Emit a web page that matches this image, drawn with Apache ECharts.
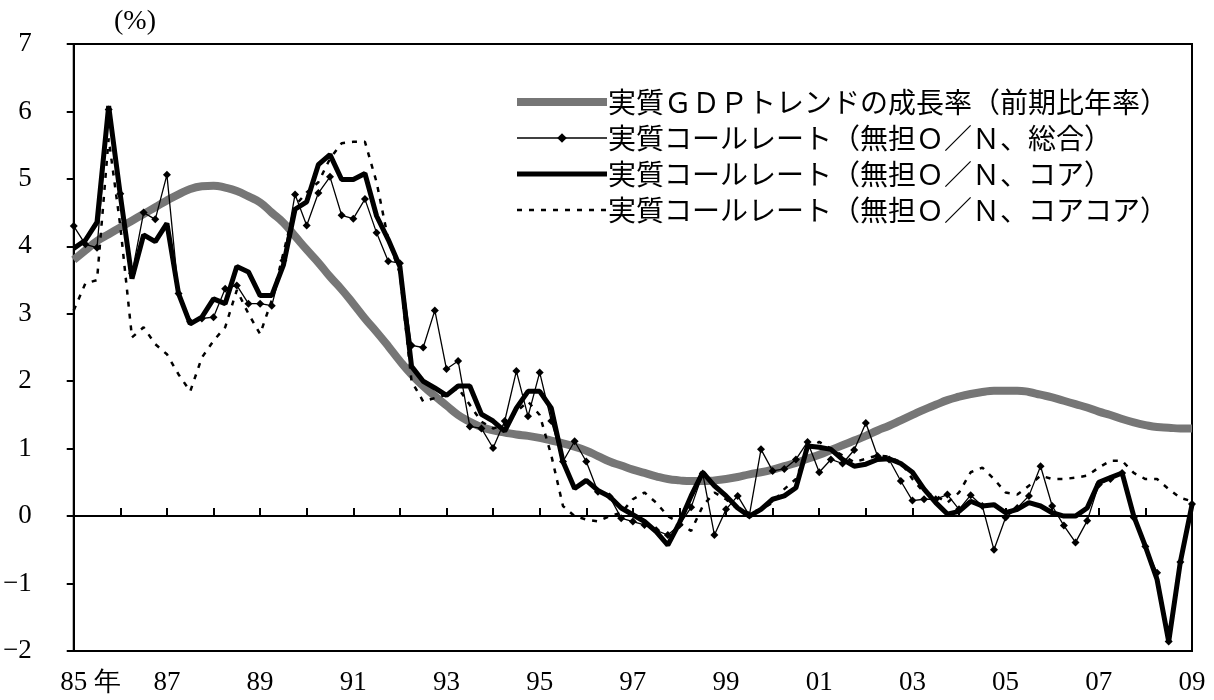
<!DOCTYPE html>
<html>
<head>
<meta charset="utf-8">
<script src="https://cdn.jsdelivr.net/npm/echarts@6/dist/echarts.min.js"></script>
<style>
  html, body { margin: 0; padding: 0; background: #fff; }
  #chart { width: 1214px; height: 700px; }
</style>
</head>
<body>
<div id="chart"></div>
<script>
// quarterly, 1985Q1 .. 2009Q1
const quarters = []
for (let y = 1985; y <= 2009; y++) {
  for (let q = 1; q <= 4; q++) {
    if (y === 2009 && q > 1) break
    quarters.push(y + 'Q' + q)
  }
}

const seriesNames = [
  '実質ＧＤＰトレンドの成長率（前期比年率）',
  '実質コールレート（無担Ｏ／Ｎ、総合）',
  '実質コールレート（無担Ｏ／Ｎ、コア）',
  '実質コールレート（無担Ｏ／Ｎ、コアコア）'
]

// GDP trend growth (smooth gray band)
const gdpTrend = [
  3.80, 3.94, 4.08, 4.18, 4.28, 4.38, 4.48, 4.58, 4.68, 4.77, 4.85, 4.89, 4.90,
  4.87, 4.82, 4.74, 4.65, 4.50, 4.35, 4.15, 3.95, 3.76, 3.55, 3.36, 3.15, 2.93,
  2.73, 2.52, 2.30, 2.10, 1.93, 1.78, 1.64, 1.50, 1.40, 1.32, 1.27, 1.24, 1.21,
  1.19, 1.16, 1.12, 1.08, 1.03, 0.97, 0.89, 0.81, 0.75, 0.69, 0.64, 0.59, 0.55,
  0.53, 0.52, 0.52, 0.53, 0.55, 0.58, 0.62, 0.65, 0.69, 0.74, 0.79, 0.85, 0.91,
  0.98, 1.05, 1.12, 1.19, 1.27, 1.34, 1.42, 1.50, 1.58, 1.65, 1.72, 1.77, 1.81,
  1.84, 1.86, 1.86, 1.86, 1.84, 1.80, 1.76, 1.71, 1.66, 1.61, 1.55, 1.50, 1.44,
  1.39, 1.35, 1.32, 1.31, 1.30, 1.30
]

// real call rate, headline (thin line with diamonds)
const callTotal = [
  4.30, 4.03, 3.98, 6.03, 4.78, 3.60, 4.50, 4.40, 5.06, 3.30, 2.88, 2.93, 2.95,
  3.37, 3.42, 3.15, 3.15, 3.12, 3.79, 4.77, 4.31, 4.79, 5.03, 4.46, 4.41, 4.70,
  4.20, 3.78, 3.75, 2.53, 2.50, 3.05, 2.18, 2.30, 1.33, 1.30, 1.01, 1.41, 2.15,
  1.48, 2.13, 1.41, 0.81, 1.11, 0.81, 0.36, 0.29, -0.03, -0.08, -0.13, -0.21, -0.28,
  -0.13, 0.13, 0.63, -0.28, 0.10, 0.30, 0.01, 0.99, 0.67, 0.70, 0.84, 1.10, 0.65,
  0.84, 0.78, 0.98, 1.38, 0.89, 0.84, 0.52, 0.23, 0.25, 0.25, 0.32, 0.10, 0.31,
  0.15, -0.50, -0.02, 0.12, 0.30, 0.74, 0.15, -0.14, -0.39, -0.07, 0.47, 0.55, 0.64,
  -0.02, -0.45, -0.84, -1.86, -0.68, 0.18
]

// real call rate, core (thick black)
const callCore = [
  3.97, 4.09, 4.36, 6.08, 4.76, 3.52, 4.17, 4.07, 4.34, 3.30, 2.85, 2.95, 3.22,
  3.15, 3.70, 3.62, 3.27, 3.27, 3.72, 4.55, 4.66, 5.21, 5.36, 4.99, 4.99, 5.08,
  4.45, 4.10, 3.70, 2.22, 2.00, 1.90, 1.79, 1.93, 1.93, 1.51, 1.41, 1.26, 1.60,
  1.85, 1.85, 1.60, 0.81, 0.41, 0.53, 0.38, 0.29, 0.12, 0.02, -0.08, -0.23, -0.43,
  -0.10, 0.30, 0.65, 0.45, 0.30, 0.12, 0.00, 0.10, 0.25, 0.30, 0.42, 1.04, 1.02,
  0.99, 0.84, 0.74, 0.77, 0.84, 0.85, 0.78, 0.65, 0.40, 0.20, 0.03, 0.07, 0.22,
  0.15, 0.17, 0.05, 0.10, 0.20, 0.15, 0.05, 0.00, 0.00, 0.12, 0.50, 0.57, 0.64,
  0.00, -0.45, -0.94, -1.86, -0.68, 0.17
]

// real call rate, core-core (dotted)
const callCoreCore = [
  3.05, 3.45, 3.50, 5.60, 4.30, 2.65, 2.80, 2.55, 2.40, 2.10, 1.85, 2.35, 2.60,
  2.80, 3.35, 3.00, 2.70, 3.20, 3.90, 4.60, 4.80, 4.95, 5.30, 5.53, 5.55, 5.55,
  4.95, 4.10, 3.60, 2.00, 1.70, 1.75, 1.80, 1.90, 1.65, 1.40, 1.30, 1.35, 1.55,
  1.70, 1.50, 0.90, 0.15, 0.00, -0.05, -0.08, 0.00, 0.05, 0.25, 0.35, 0.20, 0.00,
  -0.10, -0.22, 0.15, 0.35, 0.25, 0.10, 0.05, 0.10, 0.20, 0.40, 0.55, 1.00, 1.10,
  1.00, 0.90, 0.80, 0.85, 0.90, 0.88, 0.80, 0.55, 0.35, 0.30, 0.20, 0.35, 0.65,
  0.72, 0.55, 0.35, 0.32, 0.45, 0.60, 0.55, 0.55, 0.57, 0.60, 0.72, 0.82, 0.82,
  0.64, 0.55, 0.55, 0.40, 0.27, 0.22
]

const yTicks = { min: -2, max: 7, interval: 1 }

const serif = 'Liberation Serif'
const jp = 'Noto Sans CJK JP'
const gray = '#767676'

// legend icon styles per series (gdp, total, core, core-core)
const legendLines = [
  { width: 8, color: gray },
  { width: 1.3, color: '#000' },
  { width: 5, color: '#000' },
  { width: 2.5, color: '#000', type: [5, 7] }
]

const chart = echarts.init(document.getElementById('chart'))

chart.setOption({
  animation: false,
  backgroundColor: '#fff',
  grid: {
    left: 72, right: 22, top: 44, bottom: 49,
    show: true, borderColor: '#000', borderWidth: 2
  },
  graphic: [{
    type: 'text', left: 114, top: 8,
    style: { text: '(%)', fontFamily: serif, fontSize: 28, fill: '#000' }
  }],
  legend: {
    orient: 'vertical',
    left: 508, top: 83,
    itemWidth: 90, itemHeight: 12, itemGap: 8,
    textStyle: { fontFamily: jp, fontSize: 28, lineHeight: 28, color: '#000', padding: [0, 0, 0, -4] },
    data: seriesNames.map((name, i) => ({
      name,
      lineStyle: legendLines[i],
      itemStyle: i === 1 ? { color: '#000' } : { opacity: 0 }
    }))
  },
  xAxis: {
    type: 'category',
    data: quarters,
    boundaryGap: false,
    axisLine: { lineStyle: { color: '#000', width: 2 } },
    axisTick: { inside: true, length: 8, interval: 3, lineStyle: { color: '#000', width: 2 } },
    axisLabel: {
      interval: 7,
      margin: 18,
      color: '#000',
      fontFamily: serif,
      fontSize: 27,
      formatter: (val, idx) => {
        const yy = val.slice(2, 4)
        return idx === 0 ? '{y|' + yy + ' 年}' : yy
      },
      rich: {
        y: { fontFamily: serif, fontSize: 27, color: '#000', padding: [0, 0, 0, 34] }
      }
    },
    splitLine: { show: false }
  },
  yAxis: {
    type: 'value',
    min: yTicks.min, max: yTicks.max, interval: yTicks.interval,
    axisLine: { show: true, lineStyle: { color: '#000', width: 2 } },
    axisTick: { show: true, inside: false, length: 7, lineStyle: { color: '#000', width: 2 } },
    axisLabel: {
      margin: 42, color: '#000', fontFamily: serif, fontSize: 27,
      formatter: v => (v < 0 ? '−' + Math.abs(v) : String(v))
    },
    splitLine: { show: false }
  },
  series: [
    {
      name: seriesNames[0],
      type: 'line',
      data: gdpTrend,
      smooth: true,
      symbol: 'none',
      lineStyle: { width: 8, color: gray },
      itemStyle: { color: gray },
      z: 1
    },
    {
      name: seriesNames[1],
      type: 'line',
      data: callTotal,
      symbol: 'diamond',
      symbolSize: 8,
      showAllSymbol: true,
      lineStyle: { width: 1.3, color: '#000' },
      itemStyle: { color: '#000' },
      z: 3
    },
    {
      name: seriesNames[2],
      type: 'line',
      data: callCore,
      symbol: 'none',
      lineStyle: { width: 5, color: '#000' },
      itemStyle: { color: '#000' },
      z: 4,
      markLine: {
        silent: true,
        symbol: 'none',
        label: { show: false },
        lineStyle: { color: '#000', width: 1.5, type: 'solid' },
        data: [{ yAxis: 0 }]
      }
    },
    {
      name: seriesNames[3],
      type: 'line',
      data: callCoreCore,
      symbol: 'none',
      lineStyle: { width: 2.5, color: '#000', type: [5, 7] },
      itemStyle: { color: '#000' },
      z: 2
    }
  ]
})
</script>
</body>
</html>
